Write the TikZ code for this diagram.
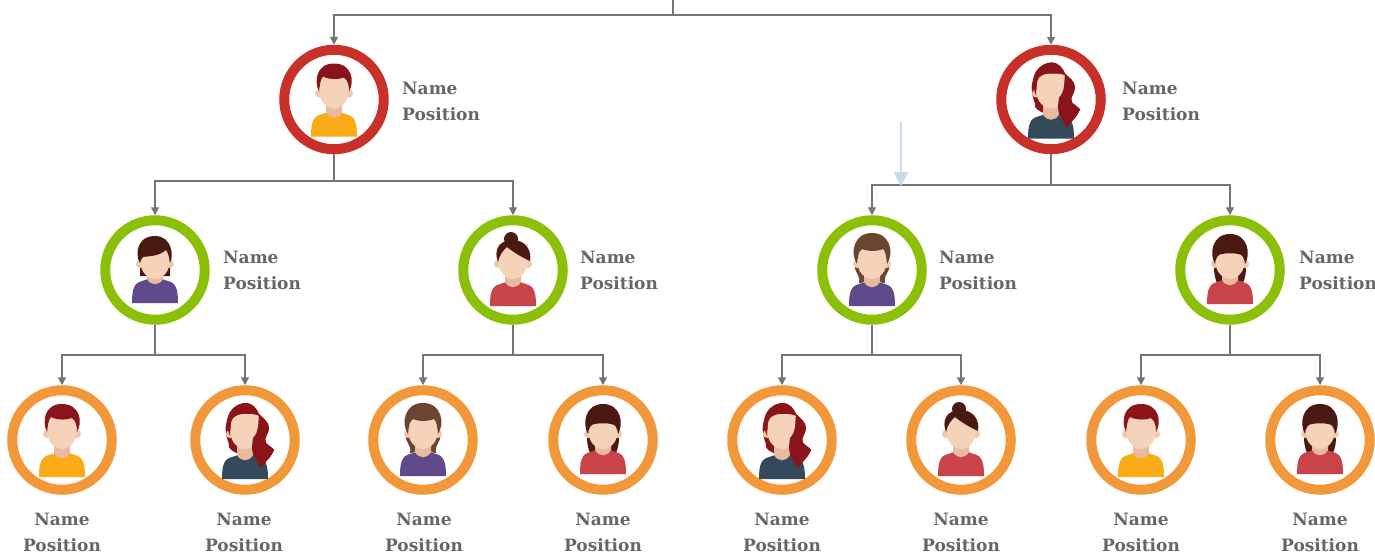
\documentclass[tikz,border=0pt]{standalone}
\usepackage{fontspec}
\setmainfont{DejaVu Serif}
\usetikzlibrary{arrows.meta}
\definecolor{rred}{HTML}{C9302A}
\definecolor{rgreen}{HTML}{8CC008}
\definecolor{rorange}{HTML}{F2973A}
\definecolor{ink}{HTML}{666666}
\definecolor{linec}{HTML}{757575}
\definecolor{skin}{HTML}{F4D3B8}
\definecolor{skind}{HTML}{E8BBA0}
\definecolor{ear}{HTML}{F0C8AC}
\definecolor{hred}{HTML}{8A1419}
\definecolor{hdark}{HTML}{4A1A12}
\definecolor{hbrown}{HTML}{6B4530}
\definecolor{syellow}{HTML}{FAAB18}
\definecolor{steal}{HTML}{34495A}
\definecolor{spurple}{HTML}{5F4A8B}
\definecolor{sred}{HTML}{C94448}
\definecolor{pale}{HTML}{C9DCEA}
\tikzset{
  ring/.style={circle,draw=#1,line width=10pt,minimum size=99.5pt,inner sep=0pt,fill=white},
  lab/.style={font=\bfseries\fontsize{17}{20}\selectfont,text=ink,inner sep=0pt},
  sidelab/.style={lab,anchor=base west},
  undlab/.style={lab,anchor=base},
  conn/.style={draw=linec,line width=1.3pt},
  arr/.style={conn,-{Triangle[length=8pt,width=8pt]}},
  palearr/.style={draw=pale,line width=1.4pt,-{Triangle[length=14pt,width=15pt]}},
  pics/bodyp/.style 2 args={code={
    \fill[#1] (-23,#2) .. controls (-23,#2-14) and (-21,#2-20) .. (-13,#2-22)
      -- (-7,#2-24) -- (7,#2-24) -- (13,#2-22)
      .. controls (21,#2-20) and (23,#2-14) .. (23,#2) -- cycle;
    \fill[skind] (-8,0) -- (-8,#2-24) .. controls (-4,#2-17) and (4,#2-17) .. (8,#2-24) -- (8,0) -- cycle;
    \fill[ear] (-15,-6) circle[radius=4];
    \fill[ear] (15,-6) circle[radius=4];
    \fill[skin] (-14.5,-26) -- (14.5,-26) -- (14.5,-8)
      .. controls (14.5,2) and (7,9) .. (0,9) .. controls (-7,9) and (-14.5,2) .. (-14.5,-8) -- cycle;
  }},
  pics/manav/.style={code={
    \pic {bodyp={syellow}{37}};
    \fill[hred] (-15,-8) .. controls (-20,-18) and (-18,-36) .. (0,-36)
      .. controls (18,-36) and (21,-18) .. (15,-8)
      .. controls (15,-14) and (14,-19) .. (10,-22)
      .. controls (2,-19) and (-8,-21) .. (-11,-23)
      .. controls (-14,-20) and (-14,-14) .. (-15,-8) -- cycle;
  }},
  pics/wavyav/.style={code={
    \fill[hred] (-6,14) .. controls (-12,12) and (-18,8) .. (-16,4)
      .. controls (-20,-6) and (-20,-14) .. (-18,-20)
      .. controls (-16,-32) and (-6,-37) .. (0,-37)
      .. controls (8,-37) and (12,-31) .. (14,-26)
      .. controls (18,-22) and (24,-18) .. (24,-12)
      .. controls (24,-6) and (18,-2) .. (21,3)
      .. controls (24,6) and (28,8) .. (29,10)
      .. controls (27,16) and (20,22) .. (16,28)
      .. controls (10,24) and (7,22) .. (7,18) -- cycle;
    \pic {bodyp={steal}{39}};
    \fill[hred] (8,-2) .. controls (7,6) and (6,10) .. (9,16)
      .. controls (12,20) and (12,24) .. (16,28)
      .. controls (20,22) and (27,16) .. (29,10)
      .. controls (28,8) and (24,6) .. (21,3)
      .. controls (18,-2) and (24,-6) .. (24,-12)
      .. controls (24,-18) and (18,-22) .. (14,-26)
      .. controls (13,-16) and (14,-8) .. (8,-2) -- cycle;
    \fill[hred] (-15,-4) .. controls (-20,-14) and (-18,-32) .. (0,-37)
      .. controls (8,-37) and (12,-31) .. (14.5,-24)
      .. controls (8,-27) and (-6,-28) .. (-12,-22)
      .. controls (-15,-18) and (-15,-10) .. (-15,-4) -- cycle;
  }},
  pics/bobav/.style={code={
    \fill[hdark] (-15,6) -- (-15,-4) -- (-6,-2) -- (-6,6) -- cycle;
    \fill[hdark] (15,6) -- (15,-4) -- (6,-2) -- (6,6) -- cycle;
    \pic {bodyp={spurple}{33}};
    \fill[hdark] (-15,-7) .. controls (-20,-14) and (-19,-34) .. (0,-34)
      .. controls (17,-34) and (19,-14) .. (15,-7)
      .. controls (14,-12) and (14,-16) .. (11,-20)
      .. controls (4,-14) and (-4,-14) .. (-12,-13)
      .. controls (-14,-12) and (-14,-9) .. (-15,-7) -- cycle;
  }},
  pics/bunav/.style={code={
    \pic {bodyp={sred}{36}};
    \fill[hdark] (-2,-31) circle[radius=7];
    \fill[hdark] (-15,-8) .. controls (-19,-18) and (-16,-30) .. (0,-30)
      .. controls (12,-30) and (19,-20) .. (17,-9)
      .. controls (10,-12) and (0,-18) .. (-6,-23)
      .. controls (-10,-20) and (-14,-14) .. (-15,-8) -- cycle;
  }},
  pics/braidav/.style={code={
    \fill[hbrown] (-17,-6) .. controls (-19,2) and (-11,4) .. (-13,13)
      .. controls (-8,14) and (-3,8) .. (-6,2) -- (-10,-6) -- cycle;
    \fill[hbrown] (17,-6) .. controls (19,2) and (11,4) .. (13,13)
      .. controls (8,14) and (3,8) .. (6,2) -- (10,-6) -- cycle;
    \pic {bodyp={spurple}{36}};
    \fill[hbrown] (-15,-6) .. controls (-22,-16) and (-19,-37) .. (0,-37)
      .. controls (19,-37) and (22,-16) .. (15,-6)
      .. controls (14,-14) and (14,-18) .. (11,-21)
      .. controls (4,-18) and (-6,-19) .. (-10,-21)
      .. controls (-14,-18) and (-14,-14) .. (-15,-6) -- cycle;
  }},
  pics/longav/.style={code={
    \fill[hdark] (-15,-8) .. controls (-17,2) and (-15,8) .. (-13,13)
      -- (-8,12) .. controls (-8,8) and (-7,4) .. (-8,0) -- cycle;
    \fill[hdark] (15,-8) .. controls (17,2) and (15,8) .. (13,13)
      -- (8,12) .. controls (8,8) and (7,4) .. (8,0) -- cycle;
    \pic {bodyp={sred}{34}};
    \fill[hdark] (-15,-6) .. controls (-21,-16) and (-18,-36) .. (0,-36)
      .. controls (18,-36) and (21,-16) .. (15,-6)
      .. controls (14.5,-12) and (12,-16) .. (8,-16)
      .. controls (4,-17) and (-4,-17) .. (-8,-16)
      .. controls (-12,-16) and (-14.5,-12) .. (-15,-6) -- cycle;
  }},
}
\newcommand{\sidelabels}[3]{% name prefix, x, y of Name baseline
  \node[sidelab] (#1n) at (#2,#3) {Name};
  \node[sidelab] (#1p) at (#2,#3+26) {Position};
}
\newcommand{\underlabels}[2]{%
  \node[undlab] (#1n) at (#2,525) {Name};
  \node[undlab] (#1p) at (#2,551) {Position};
}
\begin{document}
\begin{tikzpicture}[x=1pt,y=-1pt]
\useasboundingbox (0,0) rectangle (1375,557);
% rings
\node[ring=rred] (a1) at (334,99.5) {};
\node[ring=rred] (a2) at (1051,99.5) {};
\node[ring=rgreen] (b1) at (155,270) {};
\node[ring=rgreen] (b2) at (513,270) {};
\node[ring=rgreen] (b3) at (872,270) {};
\node[ring=rgreen] (b4) at (1230,270) {};
\node[ring=rorange] (c1) at (62,440) {};
\node[ring=rorange] (c2) at (245,440) {};
\node[ring=rorange] (c3) at (423,440) {};
\node[ring=rorange] (c4) at (603,440) {};
\node[ring=rorange] (c5) at (782,440) {};
\node[ring=rorange] (c6) at (961,440) {};
\node[ring=rorange] (c7) at (1141,440) {};
\node[ring=rorange] (c8) at (1320,440) {};
% avatars
\pic at (a1) {manav};
\pic at (a2) {wavyav};
\pic at (b1) {bobav};
\pic at (b2) {bunav};
\pic at (b3) {braidav};
\pic at (b4) {longav};
\pic at (c1) {manav};
\pic at (c2) {wavyav};
\pic at (c3) {braidav};
\pic at (c4) {longav};
\pic at (c5) {wavyav};
\pic at (c6) {bunav};
\pic at (c7) {manav};
\pic at (c8) {longav};
% connectors
\coordinate (t0) at (673,0);
\coordinate (j0) at (673,15);
\draw[conn] (t0) -- (j0);
\draw[arr] (j0) -| (a1.north);
\draw[arr] (j0) -| (a2.north);
\coordinate (ja1) at (334,181);
\coordinate (ja2) at (1051,185);
\coordinate (jb1) at (155,355);
\coordinate (jb2) at (513,355);
\coordinate (jb3) at (872,355);
\coordinate (jb4) at (1230,355);
\draw[conn] (a1.south) -- (ja1);
\draw[conn] (a2.south) -- (ja2);
\draw[conn] (b1.south) -- (jb1);
\draw[conn] (b2.south) -- (jb2);
\draw[conn] (b3.south) -- (jb3);
\draw[conn] (b4.south) -- (jb4);
\draw[arr] (ja1) -| (b1.north);
\draw[arr] (ja1) -| (b2.north);
\draw[arr] (ja2) -| (b3.north);
\draw[arr] (ja2) -| (b4.north);
\draw[arr] (jb1) -| (c1.north);
\draw[arr] (jb1) -| (c2.north);
\draw[arr] (jb2) -| (c3.north);
\draw[arr] (jb2) -| (c4.north);
\draw[arr] (jb3) -| (c5.north);
\draw[arr] (jb3) -| (c6.north);
\draw[arr] (jb4) -| (c7.north);
\draw[arr] (jb4) -| (c8.north);
% pale arrow
\coordinate (p0) at (901,122);
\coordinate (p1) at (901,186);
\draw[palearr] (p0) -- (p1);
% labels
\sidelabels{la1}{402}{94}
\sidelabels{la2}{1122}{94}
\sidelabels{lb1}{223}{263}
\sidelabels{lb2}{580}{263}
\sidelabels{lb3}{939}{263}
\sidelabels{lb4}{1299}{263}
\underlabels{lc1}{62}
\underlabels{lc2}{244}
\underlabels{lc3}{424}
\underlabels{lc4}{603}
\underlabels{lc5}{782}
\underlabels{lc6}{961}
\underlabels{lc7}{1141}
\underlabels{lc8}{1320}
\end{tikzpicture}
\end{document}
